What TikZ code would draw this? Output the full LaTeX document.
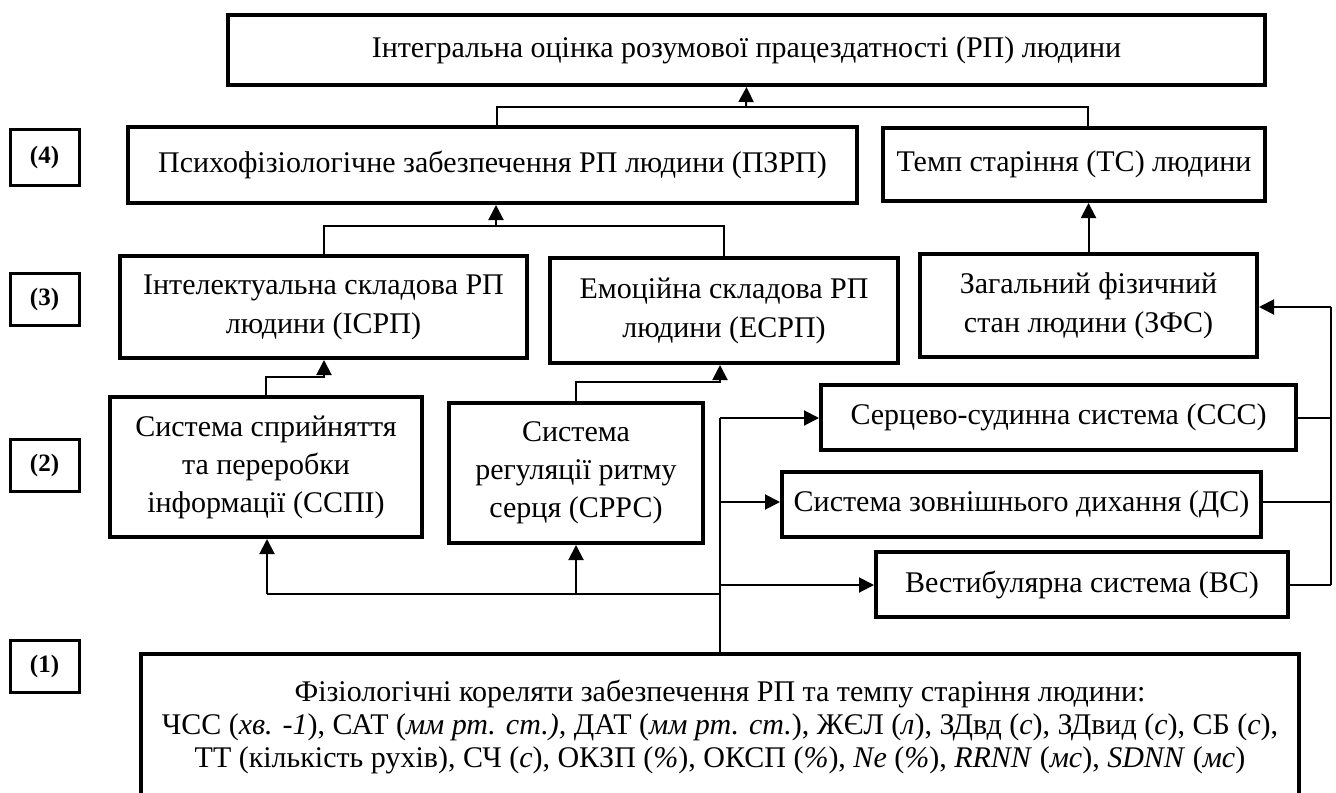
\documentclass[tikz,border=0pt]{standalone}
\usepackage{fontspec}
\setmainfont{Liberation Serif}
\usetikzlibrary{arrows.meta}
\begin{document}
\begin{tikzpicture}[x=0.5pt,y=-0.5pt,
  box/.style={draw, line width=2pt, align=center, inner sep=0pt, font=\fontsize{15}{19.5}\selectfont},
  lbl/.style={draw, line width=1.5pt, inner sep=0pt, minimum width=34.5pt, minimum height=26pt, font=\fontsize{12.5}{14}\selectfont\bfseries},
  conn/.style={line width=1pt},
  arr/.style={line width=1pt, -{Triangle[length=7.5pt,width=7.5pt]}}
]
\useasboundingbox (0,0) rectangle (1336,792);
\clip (0,0) rectangle (1336,792);
% level labels
\node[lbl, minimum height=28pt] (l4) at (44.5,157) {(4)};
\node[lbl] (l3) at (44.5,299) {(3)};
\node[lbl] (l2) at (44.5,465) {(2)};
\node[lbl] (l1) at (44.5,666) {(1)};
% boxes
\node[box, minimum width=518.5pt, minimum height=35pt] (top) at (746.5,50) {Інтегральна оцінка розумової працездатності (РП) людини};
\node[box, minimum width=364.5pt, minimum height=38pt] (pz) at (492.5,165) {Психофізіологічне забезпечення РП людини (ПЗРП)};
\node[box, minimum width=191pt, minimum height=36.5pt] (ts) at (1074,164.5) {Темп старіння (ТС) людини};
\node[box, minimum width=203.5pt, minimum height=51pt] (is) at (323.5,307) {Інтелектуальна складова РП\\людини (ІСРП)};
\node[box, minimum width=174pt, minimum height=52.5pt] (es) at (724,310.5) {Емоційна складова РП\\людини (ЕСРП)};
\node[box, minimum width=168.5pt, minimum height=51.5pt] (zf) at (1088.5,305.5) {Загальний фізичний\\стан людини (ЗФС)};
\node[box, minimum width=156pt, minimum height=70pt, font=\fontsize{15}{19}\selectfont] (sp) at (266,467) {Система сприйняття\\та переробки\\інформації (ССПІ)};
\node[box, minimum width=127pt, minimum height=70pt, font=\fontsize{15}{19}\selectfont] (sr) at (576,473) {Система\\регуляції ритму\\серця (СРРС)};
\node[box, minimum width=237.5pt, minimum height=32.5pt] (ss) at (1058.5,417.5) {Серцево-судинна система (ССС)};
\node[box, minimum width=239.5pt, minimum height=32.5pt] (ds) at (1021.5,504.5) {Система зовнішнього дихання (ДС)};
\node[box, minimum width=206pt, minimum height=32.5pt] (vs) at (1082,584.5) {Вестибулярна система (ВС)};
\node[box, anchor=north, minimum width=579pt, inner ysep=13pt, font=\fontsize{15}{16.5}\selectfont] (fk) at (720,652)
  {Фізіологічні кореляти забезпечення РП та темпу старіння людини:\\
   ЧСС (\textit{хв. -1}), САТ (\textit{мм рт. ст.),} ДАТ (\textit{мм рт. ст.}), ЖЄЛ (\textit{л}), ЗДвд (\textit{с}), ЗДвид (\textit{с}), СБ (\textit{с}),\\
   ТТ (кількість рухів), СЧ (\textit{с}), ОКЗП (\textit{\%}), ОКСП (\textit{\%}), \textit{Ne} (\textit{\%}), \textit{RRNN} (\textit{мс}), \textit{SDNN} (\textit{мс})};
% level 4 -> top
\coordinate (b4) at (746,107);
\draw[conn] ([xshift=2.25pt]pz.north) |- (b4) -| ([xshift=7pt]ts.north);
\draw[arr] (b4) -- (top.south);
% level 3 -> PZRP
\coordinate (b3) at (496,226);
\draw[conn] (is.north) |- (b3) -| (es.north);
\draw[arr] (b3) -- (b3 |- pz.south);
% ZFS -> TS
\draw[arr] (zf.north) -- (zf.north |- ts.south);
% SSPI -> ISRP
\coordinate (k1) at (324,377);
\draw[arr] (sp.north) |- (k1) -- (k1 |- is.south);
% SRRS -> ESRP
\coordinate (k2) at (720,382);
\draw[arr] (sr.north) |- (k2) -- (k2 |- es.south);
% main bus from bottom box
\coordinate (m0) at (720,652);
\coordinate (m1) at (720,418);
\coordinate (m2) at (720,502);
\coordinate (m3) at (720,585);
\coordinate (m4) at (720,594);
\draw[conn] (m0) -- (m1);
\draw[arr] (m1) -- (m1 -| ss.west);
\draw[arr] (m2) -- (m2 -| ds.west);
\draw[arr] (m3) -- (m3 -| vs.west);
\coordinate (q1) at (267,594);
\draw[conn] (m4) -- (q1);
\draw[arr] (q1) -- (q1 |- sp.south);
\draw[arr] (m4 -| sr.south) -- (sr.south);
% right bus into ZFS
\coordinate (r0) at (1331,307);
\coordinate (r1) at (1331,418);
\coordinate (r2) at (1331,502);
\coordinate (r3) at (1331,585);
\draw[conn] (ss.east |- r1) -- (r1);
\draw[conn] (ds.east |- r2) -- (r2);
\draw[conn] (vs.east |- r3) -- (r3);
\draw[conn] (r3) -- (r0);
\draw[arr] (r0) -- (r0 -| zf.east);
\end{tikzpicture}
\end{document}
